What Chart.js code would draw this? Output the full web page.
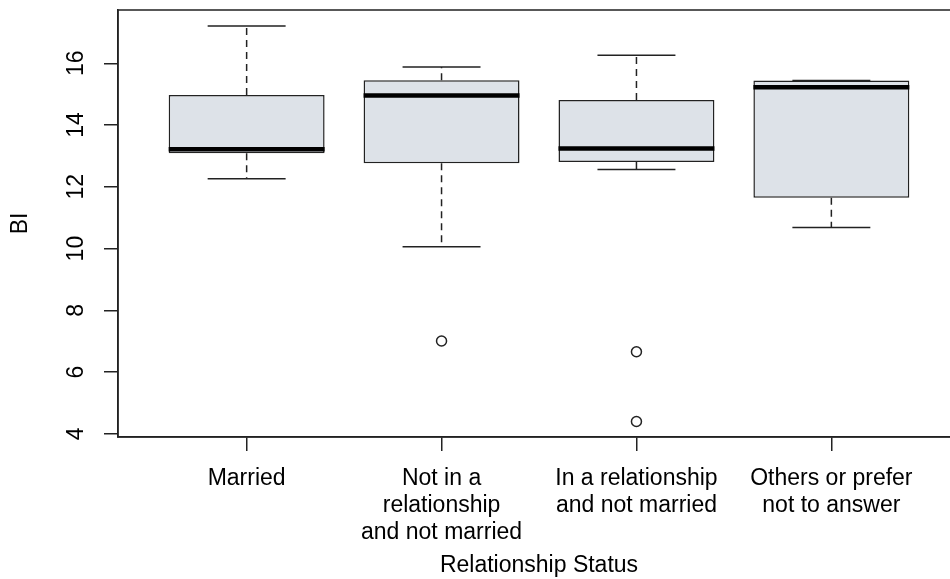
<!DOCTYPE html>
<html>
<head>
<meta charset="utf-8">
<script src="https://cdn.jsdelivr.net/npm/chart.js@4/dist/chart.umd.min.js"></script>
<style>
  html, body { margin: 0; padding: 0; background: #fff; overflow: hidden; }
  canvas { display: block; }
</style>
</head>
<body>
<canvas id="bi" width="972" height="579"></canvas>
<script>
// BI by relationship status, five-number summaries per group
const groups = [
    ['Married'],
    ['Not in a', 'relationship', 'and not married'],
    ['In a relationship', 'and not married'],
    ['Others or prefer', 'not to answer']
];
const groupPos = [1, 2, 3, 4];
const whiskerLow = [12.26, 10.06, 12.56, 10.68];
const q1 = [13.09, 12.76, 12.80, 11.65];
const medians = [13.22, 14.96, 13.24, 15.22];
const q3 = [14.97, 15.45, 14.81, 15.44];
const whiskerHigh = [17.21, 15.88, 16.26, 15.44];
const outliers = [[], [7.01], [6.66, 4.40], []];
const yTicks = [4, 6, 8, 10, 12, 14, 16];

const INK = '#222';
const FONT = { family: "'Liberation Sans', Arial, sans-serif", size: 23, lineHeight: 1.174 };

// medians, dashed whiskers and staples on top of the boxes
const boxExtras = {
    id: 'boxExtras',
    afterDatasetsDraw(chart) {
        const { ctx, scales: { x, y } } = chart;
        ctx.save();
        groupPos.forEach((p, i) => {
            const cx = x.getPixelForValue(p);
            // whiskers
            ctx.strokeStyle = INK;
            ctx.lineWidth = 1.5;
            ctx.setLineDash([7, 5]);
            ctx.beginPath();
            ctx.moveTo(cx, y.getPixelForValue(q3[i]));
            ctx.lineTo(cx, y.getPixelForValue(whiskerHigh[i]));
            ctx.moveTo(cx, y.getPixelForValue(q1[i]));
            ctx.lineTo(cx, y.getPixelForValue(whiskerLow[i]));
            ctx.stroke();
            ctx.setLineDash([]);
            // staples
            const sl = x.getPixelForValue(p - 0.2), sr = x.getPixelForValue(p + 0.2);
            ctx.beginPath();
            [whiskerHigh[i], whiskerLow[i]].forEach(v => {
                const py = y.getPixelForValue(v);
                ctx.moveTo(sl, py);
                ctx.lineTo(sr, py);
            });
            ctx.stroke();
            // median
            const bl = x.getPixelForValue(p - 0.4), br = x.getPixelForValue(p + 0.4);
            const my = y.getPixelForValue(medians[i]);
            ctx.strokeStyle = '#000';
            ctx.lineWidth = 4.5;
            ctx.beginPath();
            ctx.moveTo(bl, my);
            ctx.lineTo(br, my);
            ctx.stroke();
        });
        ctx.restore();
    }
};

// closing frame round the plot area
const frame = {
    id: 'frame',
    afterDraw(chart) {
        const { ctx, chartArea: a } = chart;
        ctx.save();
        ctx.strokeStyle = INK;
        ctx.lineWidth = 1.5;
        ctx.strokeRect(a.left, a.top, a.right - a.left, a.bottom - a.top);
        ctx.restore();
    }
};

const outlierPoints = [];
outliers.forEach((list, i) => list.forEach(v => outlierPoints.push({ x: groupPos[i], y: v })));

new Chart(document.getElementById('bi'), {
    type: 'bar',
    data: {
        datasets: [{
            type: 'bar',
            data: groupPos.map((p, i) => ({ x: p, y: [q1[i], q3[i]] })),
            backgroundColor: '#dde2e8',
            borderColor: INK,
            borderWidth: 1.5,
            borderSkipped: false,
            barPercentage: 0.8,
            categoryPercentage: 1
        }, {
            type: 'scatter',
            data: outlierPoints,
            pointRadius: 5,
            pointBackgroundColor: '#fff',
            pointBorderColor: INK,
            pointBorderWidth: 1.5
        }]
    },
    options: {
        responsive: false,
        animation: false,
        layout: { padding: { top: 10, right: 12, left: 0, bottom: 0 } },
        plugins: { legend: { display: false }, tooltip: { enabled: false } },
        scales: {
            x: {
                type: 'linear',
                min: 0.34,
                max: 4.66,
                offset: false,
                afterBuildTicks: s => { s.ticks = groupPos.map(v => ({ value: v })); },
                afterFit: s => { s.height = 142; },
                grid: { offset: false, drawOnChartArea: false, drawTicks: true, tickLength: 14, color: INK, lineWidth: 1.5 },
                border: { display: true, color: INK, width: 1.5 },
                ticks: {
                    color: '#000',
                    font: FONT,
                    padding: 14,
                    maxRotation: 0,
                    autoSkip: false,
                    callback: (v, i) => groups[i]
                },
                title: { display: true, text: 'Relationship Status', color: '#000', font: FONT, padding: { top: 0, bottom: 0 } }
            },
            y: {
                type: 'linear',
                min: 3.9,
                max: 17.725,
                afterBuildTicks: s => { s.ticks = yTicks.map(v => ({ value: v })); },
                afterFit: s => { s.width = 118; s.paddingTop = 0; s.paddingBottom = 0; },
                grid: { drawOnChartArea: false, drawTicks: true, tickLength: 14, color: INK, lineWidth: 1.5 },
                border: { display: true, color: INK, width: 1.5 },
                ticks: {
                    color: '#000',
                    font: FONT,
                    padding: 14.5,
                    minRotation: 90,
                    maxRotation: 90,
                    crossAlign: 'center'
                },
                title: { display: true, text: 'BI', color: '#000', font: FONT, padding: { top: 7.5, bottom: 0 } }
            }
        }
    },
    plugins: [boxExtras, frame]
});
</script>
</body>
</html>
